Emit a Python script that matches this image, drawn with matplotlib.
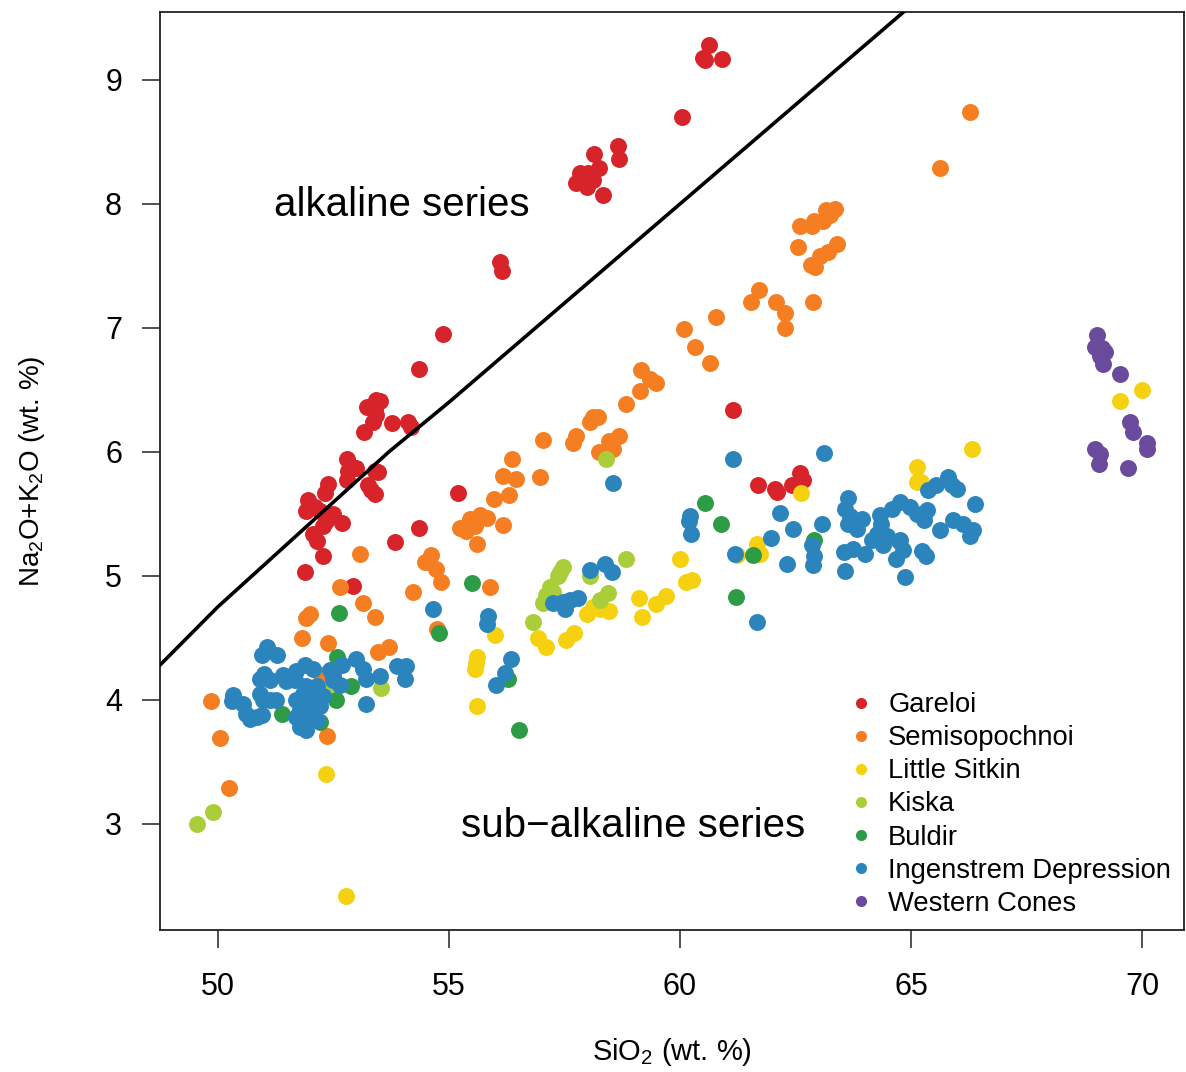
import matplotlib
matplotlib.use("Agg")
import matplotlib.pyplot as plt
from matplotlib.lines import Line2D

plt.rcParams["font.family"] = ["Liberation Sans", "DejaVu Sans"]
plt.rcParams["mathtext.fontset"] = "custom"
plt.rcParams["mathtext.rm"] = "Liberation Sans"
plt.rcParams["mathtext.it"] = "Liberation Sans:italic"

# ---- data: SiO2 and Na2O+K2O (wt. %) per volcano ----
gareloi_x = [60.63, 60.54, 60.92, 60.50, 60.05, 58.65, 58.68, 58.15, 58.25, 57.84,
             58.02, 58.12, 57.76, 57.98, 58.34, 56.10, 56.15, 54.88, 54.36, 53.43,
             53.51, 53.23, 53.40, 53.43, 53.36, 53.77, 54.12, 54.19, 53.16, 52.79,
             52.82, 53.00, 52.80, 53.40, 53.47, 53.25, 53.32, 53.40, 52.39, 52.32,
             51.95, 51.92, 52.10, 52.21, 52.50, 52.68, 52.35, 52.28, 52.06, 52.14,
             52.27, 51.88, 54.36, 53.83, 52.92, 55.20, 61.68, 62.09, 62.05, 62.42,
             62.60, 62.66, 61.15]
gareloi_y = [9.28, 9.16, 9.17, 9.18, 8.70, 8.47, 8.36, 8.40, 8.29, 8.25,
             8.25, 8.19, 8.17, 8.14, 8.07, 7.53, 7.46, 6.95, 6.67, 6.42,
             6.41, 6.36, 6.35, 6.30, 6.24, 6.23, 6.24, 6.20, 6.16, 5.94,
             5.85, 5.87, 5.77, 5.85, 5.84, 5.73, 5.69, 5.66, 5.74, 5.67,
             5.61, 5.52, 5.56, 5.52, 5.50, 5.43, 5.44, 5.40, 5.34, 5.28,
             5.16, 5.03, 5.39, 5.27, 4.92, 5.67, 5.73, 5.68, 5.70, 5.73,
             5.83, 5.77, 6.34]

semi_x = [66.28, 65.63, 63.35, 63.17, 63.25, 63.10, 62.89, 62.85, 62.60, 62.56,
          63.39, 63.21, 63.03, 62.83, 62.92, 61.72, 61.53, 62.08, 62.28, 62.27,
          62.87, 60.79, 60.09, 60.32, 60.66, 59.15, 59.35, 59.48, 59.13, 58.83,
          58.12, 58.23, 58.06, 57.75, 57.68, 58.69, 58.47, 58.56, 58.25, 57.03,
          56.37, 56.18, 56.45, 56.98, 55.97, 56.30, 55.45, 55.67, 55.82, 55.24,
          55.38, 55.56, 56.18, 55.60, 55.89, 53.07, 54.62, 54.48, 54.73, 54.84,
          54.23, 52.64, 53.15, 53.40, 51.92, 52.00, 51.83, 52.39, 53.47, 53.71,
          49.86, 50.04, 52.37, 52.24, 50.24, 54.75]
semi_y = [8.74, 8.29, 7.96, 7.95, 7.91, 7.86, 7.86, 7.82, 7.82, 7.65,
          7.68, 7.61, 7.58, 7.51, 7.49, 7.31, 7.21, 7.21, 7.12, 7.00,
          7.21, 7.09, 6.99, 6.85, 6.72, 6.66, 6.59, 6.56, 6.49, 6.39,
          6.28, 6.28, 6.24, 6.13, 6.07, 6.13, 6.09, 6.02, 6.00, 6.10,
          5.94, 5.81, 5.78, 5.80, 5.62, 5.65, 5.46, 5.49, 5.47, 5.39,
          5.36, 5.40, 5.41, 5.26, 4.91, 5.18, 5.17, 5.11, 5.06, 4.95,
          4.87, 4.91, 4.78, 4.67, 4.66, 4.69, 4.50, 4.46, 4.39, 4.43,
          3.99, 3.69, 3.71, 4.20, 3.29, 4.57]

sitkin_x = [52.77, 52.34, 70.00, 69.52, 55.60, 55.56, 55.58, 55.60, 56.00, 56.93,
            57.10, 57.54, 57.71, 57.98, 58.11, 58.27, 58.47, 59.12, 59.17, 59.48,
            59.70, 60.00, 60.13, 60.25, 66.31, 65.12, 65.12, 65.21, 62.62, 61.66,
            61.73, 61.23]
sitkin_y = [2.42, 3.40, 6.50, 6.41, 4.35, 4.25, 4.30, 3.95, 4.52, 4.50,
            4.43, 4.48, 4.54, 4.69, 4.75, 4.73, 4.72, 4.82, 4.67, 4.77,
            4.84, 5.14, 4.95, 4.97, 6.02, 5.88, 5.76, 5.76, 5.67, 5.26,
            5.18, 5.17]

kiska_x = [49.55, 49.89, 53.54, 58.41, 58.83, 57.47, 57.40, 57.36, 58.06, 57.19,
           57.26, 57.10, 57.04, 58.45, 58.27, 56.82, 52.39]
kiska_y = [3.00, 3.10, 4.10, 5.94, 5.14, 5.07, 5.03, 5.00, 5.00, 4.91,
           4.87, 4.85, 4.78, 4.86, 4.81, 4.63, 4.08]

buldir_x = [52.63, 52.57, 52.89, 52.55, 51.40, 52.22, 54.79, 55.51, 56.28, 56.52,
            60.54, 60.88, 62.91, 61.59, 61.21]
buldir_y = [4.70, 4.35, 4.11, 4.00, 3.89, 3.82, 4.54, 4.94, 4.17, 3.76,
            5.59, 5.42, 5.29, 5.17, 4.83]

ingen_x = [51.07, 50.95, 51.28, 51.00, 50.91, 51.13, 51.41, 51.48, 51.70, 51.88,
           52.06, 51.67, 52.42, 52.68, 53.00, 53.15, 53.21, 52.64, 52.50, 53.51,
           53.87, 54.08, 54.05, 53.21, 50.33, 50.30, 50.55, 50.62, 50.69, 50.91,
           50.98, 51.13, 51.27, 50.95, 50.84, 51.85, 52.06, 52.28, 51.92, 52.14,
           51.70, 51.77, 51.99, 52.21, 51.70, 51.92, 52.14, 51.77, 51.92, 52.50,
           54.66, 58.56, 60.22, 60.20, 60.23, 58.05, 58.38, 58.52, 57.26, 57.47,
           57.62, 57.80, 57.51, 55.85, 55.82, 56.35, 56.21, 56.02, 61.14, 63.12,
           62.16, 62.45, 61.98, 63.08, 61.19, 62.31, 62.85, 62.89, 62.87, 61.67,
           63.57, 63.54, 63.75, 64.00, 63.63, 63.57, 63.68, 63.64, 63.93, 63.82,
           64.33, 64.36, 64.26, 64.15, 64.47, 64.40, 64.58, 64.76, 64.98, 65.12,
           65.34, 65.27, 64.73, 64.83, 64.68, 65.23, 65.32, 64.87, 65.63, 65.37,
           65.55, 65.80, 65.88, 65.99, 66.39, 65.91, 66.13, 66.33, 66.28, 64.76]
ingen_y = [4.43, 4.36, 4.36, 4.21, 4.17, 4.16, 4.20, 4.15, 4.23, 4.28,
           4.25, 4.16, 4.24, 4.28, 4.33, 4.25, 4.17, 4.12, 4.16, 4.19,
           4.27, 4.27, 4.17, 3.97, 4.04, 3.99, 3.97, 3.89, 3.85, 4.05,
           4.00, 4.00, 4.00, 3.88, 3.86, 4.05, 4.05, 4.03, 4.11, 4.11,
           4.00, 3.92, 3.95, 3.95, 3.86, 3.86, 3.84, 3.78, 3.76, 4.20,
           4.73, 5.75, 5.48, 5.44, 5.34, 5.05, 5.10, 5.03, 4.78, 4.79,
           4.81, 4.82, 4.73, 4.68, 4.61, 4.33, 4.22, 4.12, 5.94, 5.99,
           5.51, 5.38, 5.31, 5.42, 5.18, 5.10, 5.25, 5.16, 5.09, 4.63,
           5.04, 5.19, 5.22, 5.18, 5.63, 5.54, 5.48, 5.42, 5.46, 5.38,
           5.49, 5.42, 5.34, 5.29, 5.32, 5.25, 5.54, 5.60, 5.56, 5.50,
           5.53, 5.45, 5.28, 5.21, 5.14, 5.20, 5.16, 4.99, 5.37, 5.69,
           5.73, 5.80, 5.73, 5.70, 5.58, 5.45, 5.42, 5.37, 5.32, 5.29]

western_x = [69.02, 68.98, 69.13, 69.20, 69.09, 69.15, 69.51, 69.73, 69.80, 70.10,
             70.10, 68.98, 69.08, 69.06, 69.69]
western_y = [6.94, 6.85, 6.84, 6.81, 6.77, 6.71, 6.63, 6.24, 6.16, 6.07,
             6.02, 6.02, 5.98, 5.90, 5.87]

# alkaline / sub-alkaline dividing line
div_x = [45.0, 48.0, 50.0, 53.7, 55.0, 60.0, 65.0]
div_y = [2.9, 4.0, 4.75, 6.0, 6.4, 8.0, 9.6]

groups = [
    ("Gareloi", gareloi_x, gareloi_y, "#D7232A"),
    ("Semisopochnoi", semi_x, semi_y, "#F47E21"),
    ("Little Sitkin", sitkin_x, sitkin_y, "#F5D10F"),
    ("Kiska", kiska_x, kiska_y, "#A9CE39"),
    ("Buldir", buldir_x, buldir_y, "#2E9B47"),
    ("Ingenstrem Depression", ingen_x, ingen_y, "#2C84BD"),
    ("Western Cones", western_x, western_y, "#6A4A9C"),
]

fig = plt.figure(figsize=(11.86, 10.72), dpi=100)
ax = fig.add_axes([0.1345, 0.1325, 0.864, 0.8563])

for name, xs, ys, col in groups:
    ax.plot(xs, ys, "o", color=col, ms=12.2, mew=0, label=name, zorder=2)

ax.plot(div_x, div_y, color="black", lw=2.6, zorder=3)

ax.text(53.98, 7.99, "alkaline series", fontsize=29, ha="center", va="center")
ax.text(58.98, 2.98, "sub\u2212alkaline series", fontsize=29, ha="center", va="center")

ax.set_xlim(48.74, 70.91)
ax.set_ylim(2.145, 9.548)
ax.set_xticks([50, 55, 60, 65, 70])
ax.set_yticks([3, 4, 5, 6, 7, 8, 9])
ax.tick_params(direction="out", length=13, width=1.2, labelsize=22, color="#333333")
ax.tick_params(axis="x", pad=17)
ax.tick_params(axis="y", pad=14)
for s in ax.spines.values():
    s.set_linewidth(1.3)
    s.set_color("#222222")

ax.set_xlabel("SiO$_2$ (wt. %)", fontsize=21, labelpad=25)
ax.set_ylabel("Na$_2$O+K$_2$O (wt. %)", fontsize=20, labelpad=42)

handles = [Line2D([], [], ls="none", marker="o", ms=8, mew=0, color=c)
           for _, _, _, c in groups]
ax.legend(handles, [g[0] for g in groups], loc="upper left",
          bbox_to_anchor=(0.663, 0.274), frameon=False, fontsize=19.7,
          borderpad=0, handlelength=0.6, handletextpad=0.7, labelspacing=0.26)

fig.savefig("out.png", dpi=100)
